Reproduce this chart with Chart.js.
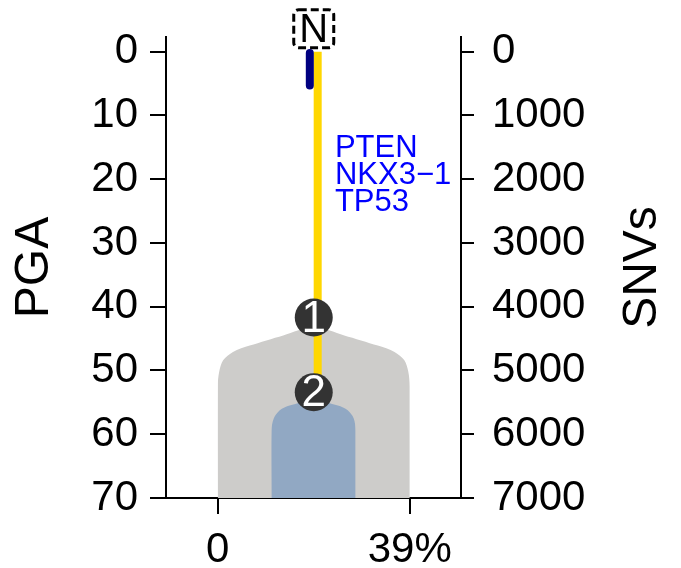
<!DOCTYPE html>
<html>
<head>
<meta charset="utf-8">
<script src="https://cdn.jsdelivr.net/npm/chart.js@4.4.1/dist/chart.umd.min.js"></script>
<style>
  html, body { margin: 0; padding: 0; background: #fff; }
  #wrap { width: 681px; height: 568px; }
</style>
</head>
<body>
<div id="wrap"><canvas id="treeChart" width="681" height="568"></canvas></div>
<script>
// 軸の目盛り
const pgaTicks = [0, 10, 20, 30, 40, 50, 60, 70];
const snvTicks = [0, 1000, 2000, 3000, 4000, 5000, 6000, 7000];
const ccfTicks = [0, 39];
const ccfTickLabels = ['0', '39%'];

// クローンの形（x = CCF, y = PGA）
const clone1X = [0, 0, 0.3, 1.1, 3.1, 6.5, 13.3, 19.5, 25.7, 32.5, 35.9, 37.9, 38.7, 39, 39];
const clone1Y = [70, 52.5, 50.2, 48.4, 47.1, 46.1, 44.5, 43.2, 44.5, 46.1, 47.1, 48.4, 50.2, 52.5, 70];
const clone2X = [10.9, 10.9, 11.4, 12.6, 14.6, 19.5, 24.4, 26.4, 27.6, 28.0, 28.0];
const clone2Y = [70, 59.4, 57.5, 56.25, 55.5, 54.7, 55.5, 56.25, 57.5, 59.4, 70];

// 枝（幹とノーマル）
const trunkX = [20.3, 20.3];
const trunkY = [0, 53.4];
const normalX = [18.7, 18.7];
const normalY = [0.2, 5.3];

// ノード
const nodeLabels = ['1', '2'];
const nodeX = [19.5, 19.5];
const nodeY = [41.7, 53.4];

// ドライバー遺伝子
const driverGenes = ['PTEN', 'NKX3\u22121', 'TP53'];
const driverX = 23.8;
const driverY = [15.2, 19.4, 23.6];

const FONT = 'Liberation Sans, Arial, sans-serif';
const toPts = (xs, ys) => xs.map((x, i) => ({ x: x, y: ys[i] }));

// 軸の余白を消す
const noPad = (s) => {
    s.paddingTop = 0;
    s.paddingBottom = 0;
    s.paddingLeft = 0;
    s.paddingRight = 0;
};

// ラベル類を描くプラグイン
const labelPlugin = {
    id: 'labels',
    afterDatasetsDraw(chart) {
        const ctx = chart.ctx;
        const x = chart.scales.x;
        const y = chart.scales.y;
        ctx.save();

        // ノード番号
        const meta = chart.getDatasetMeta(4);
        ctx.fillStyle = '#ffffff';
        ctx.font = '44px ' + FONT;
        ctx.textAlign = 'center';
        ctx.textBaseline = 'middle';
        meta.data.forEach((pt, i) => {
            ctx.fillText(nodeLabels[i], pt.x, pt.y + 2);
        });

        // 遺伝子名
        ctx.fillStyle = '#0000ff';
        ctx.font = '31px ' + FONT;
        ctx.textAlign = 'left';
        driverGenes.forEach((g, i) => {
            ctx.fillText(g, x.getPixelForValue(driverX), y.getPixelForValue(driverY[i]));
        });

        // N ボックス
        const nx = x.getPixelForValue(nodeX[0]);
        const ny = y.getPixelForValue(-3.6);
        ctx.fillStyle = '#000000';
        ctx.font = '40px ' + FONT;
        ctx.textAlign = 'center';
        ctx.fillText('N', nx, ny + 2);
        ctx.strokeStyle = '#000000';
        ctx.lineWidth = 3;
        ctx.setLineDash([8, 4]);
        ctx.beginPath();
        ctx.roundRect(nx - 20, ny - 19, 40, 38, 5);
        ctx.stroke();
        ctx.setLineDash([]);

        // 右軸タイトル（下から上へ）
        ctx.fillStyle = '#000000';
        ctx.font = '48px ' + FONT;
        ctx.translate(643, (chart.chartArea.top + chart.chartArea.bottom) / 2);
        ctx.rotate(-Math.PI / 2);
        ctx.textAlign = 'center';
        ctx.textBaseline = 'middle';
        ctx.fillText('SNVs', 0, 0);
        ctx.restore();
    }
};

const ctx = document.getElementById('treeChart').getContext('2d');

const config = {
    type: 'scatter',
    data: {
        datasets: [
            {
                label: 'clone1',
                data: toPts(clone1X, clone1Y),
                showLine: true,
                borderWidth: 0,
                pointRadius: 0,
                backgroundColor: '#cdccca',
                fill: { value: 70 },
                tension: 0.3,
                order: 5
            },
            {
                label: 'clone2',
                data: toPts(clone2X, clone2Y),
                showLine: true,
                borderWidth: 0,
                pointRadius: 0,
                backgroundColor: '#91a8c3',
                fill: { value: 70 },
                tension: 0.3,
                order: 4
            },
            {
                label: 'trunk',
                data: toPts(trunkX, trunkY),
                showLine: true,
                borderColor: '#ffd700',
                borderWidth: 8,
                borderCapStyle: 'butt',
                pointRadius: 0,
                order: 3
            },
            {
                label: 'normal',
                data: toPts(normalX, normalY),
                showLine: true,
                borderColor: '#000080',
                borderWidth: 8,
                borderCapStyle: 'round',
                pointRadius: 0,
                order: 2
            },
            {
                label: 'nodes',
                data: toPts(nodeX, nodeY),
                pointRadius: 19,
                pointBackgroundColor: '#333333',
                pointBorderColor: '#333333',
                pointBorderWidth: 0,
                order: 1
            }
        ]
    },
    options: {
        responsive: false,
        animation: false,
        clip: false,
        layout: { padding: { top: 37, right: 0, bottom: 0, left: 0 } },
        plugins: {
            legend: { display: false },
            tooltip: { enabled: false }
        },
        scales: {
            x: {
                type: 'linear',
                min: -10.5,
                max: 49.4,
                afterBuildTicks: (s) => { s.ticks = ccfTicks.map(v => ({ value: v })); },
                afterFit: (s) => { s.height = 70; noPad(s); },
                ticks: {
                    color: '#000',
                    font: { size: 42, family: FONT },
                    padding: 11,
                    maxRotation: 0,
                    autoSkip: false,
                    callback: (v) => ccfTickLabels[ccfTicks.indexOf(v)]
                },
                grid: { drawOnChartArea: false, tickLength: 16, color: '#000', lineWidth: 2 },
                border: { color: '#000', width: 2 }
            },
            y: {
                position: 'left',
                reverse: true,
                min: -2.3,
                max: 70,
                afterBuildTicks: (s) => { s.ticks = pgaTicks.map(v => ({ value: v })); },
                afterFit: (s) => { s.width = 166; noPad(s); },
                ticks: {
                    color: '#000',
                    font: { size: 42, family: FONT },
                    padding: 12,
                    autoSkip: false,
                    callback: (v) => String(v)
                },
                title: {
                    display: true,
                    text: 'PGA',
                    color: '#000',
                    font: { size: 48, family: FONT },
                    padding: { top: 6, bottom: 0 }
                },
                grid: { drawOnChartArea: false, tickLength: 16, color: '#000', lineWidth: 2 },
                border: { color: '#000', width: 2 }
            },
            y2: {
                position: 'right',
                reverse: true,
                min: -230,
                max: 7000,
                afterBuildTicks: (s) => { s.ticks = snvTicks.map(v => ({ value: v })); },
                afterFit: (s) => { s.width = 220; noPad(s); },
                ticks: {
                    color: '#000',
                    font: { size: 42, family: FONT },
                    padding: 18,
                    autoSkip: false,
                    callback: (v) => String(v)
                },
                grid: { drawOnChartArea: false, tickLength: 13, color: '#000', lineWidth: 2 },
                border: { color: '#000', width: 2 }
            }
        }
    },
    plugins: [labelPlugin]
};

new Chart(ctx, config);
</script>
</body>
</html>
